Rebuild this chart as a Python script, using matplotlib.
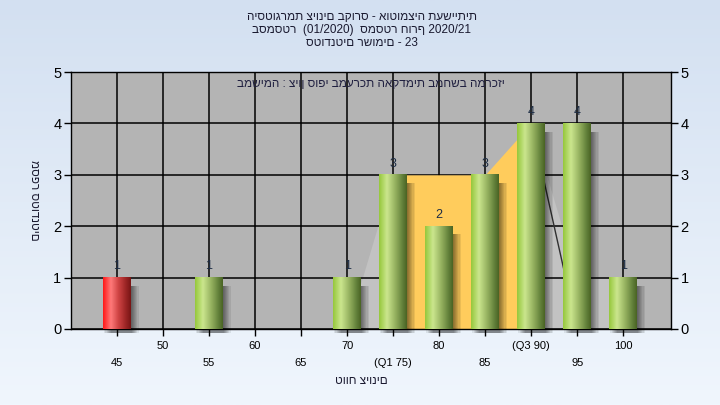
import numpy as np
import matplotlib
matplotlib.use("Agg")
import matplotlib.pyplot as plt
from matplotlib.colors import LinearSegmentedColormap, to_rgb
from matplotlib.patches import Rectangle

plt.rcParams['font.family'] = ['Liberation Sans', 'DejaVu Sans']

# ---------------- data ----------------
grade_bins = [45, 50, 55, 60, 65, 70, 75, 80, 85, 90, 95, 100]
counts = [1, 0, 1, 0, 0, 1, 3, 2, 3, 4, 4, 1]
tick_labels = ['45', '50', '55', '60', '65', '70', '(Q1 75)', '80', '85', '(Q3 90)', '95', '100']
highlight_bin = 45  # red bar

iqr_x = [75, 80, 85, 90]
iqr_y = [3, 3, 3, 4]
low_tail_x = [70, 75]
low_tail_y = [0, 3]
high_tail_x = [90, 95, 100]
high_tail_y = [4, 1, 1]
high_line_x = [90, 95, 100]
high_line_y = [4, 0, 0]

title_lines = ["היסטוגרמת ציונים בקורס - אוטומציה תעשייתית",
               "בסמסטר  (01/2020)  סמסטר חורף 2020/21",
               "סטודנטים רשומים - 23"]
inner_text = "במשימה : ציון סופי במערכת האקדמית במחשב המרכזי"
xlabel = "טווח ציונים"
ylabel = "מספר סטודנטים"

# ---------------- figure ----------------
W, H = 720, 405
fig = plt.figure(figsize=(W / 100, H / 100), dpi=100)

# background gradient
bg = fig.add_axes([0, 0, 1, 1], zorder=-10)
top = np.array(to_rgb('#d3e0f1'))
bot = np.array(to_rgb('#f0f6fd'))
t = np.linspace(0, 1, 200)[:, None, None]
grad = top * (1 - t) + bot * t
bg.imshow(grad, aspect='auto', extent=[0, 1, 0, 1])
bg.set_axis_off()

L, R, T, B = 71, 671, 72, 329
ax = fig.add_axes([L / W, 1 - B / H, (R - L) / W, (B - T) / H])
ax.set_facecolor('#b4b4b4')

# area fills
ax.fill_between(low_tail_x, low_tail_y, 0, color='#c2c2c2', lw=0, zorder=0.3)
ax.fill_between(high_tail_x, high_tail_y, 0, color='#c2c2c2', lw=0, zorder=0.3)
ax.plot(high_line_x, high_line_y, color='#303030', lw=1.0, zorder=0.6)
ax.fill_between(iqr_x, iqr_y, 0, color='#ffcc5c', lw=0, zorder=1)

# grid
ax.set_axisbelow(True)
ax.grid(True, color='black', lw=1.1)

green = LinearSegmentedColormap.from_list('g', [(0, '#96c83c'), (0.28, '#cbe68e'),
                                                 (0.55, '#9cb865'), (0.85, '#62803a'),
                                                 (1, '#4a6424')])
red = LinearSegmentedColormap.from_list('r', [(0, '#ff1818'), (0.28, '#ff7a7a'),
                                               (0.55, '#d04444'), (0.85, '#962222'),
                                               (1, '#781515')])
bw = 3.0
gx = np.linspace(0, 1, 64)[None, :]
for x, v in zip(grade_bins, counts):
    if v <= 0:
        continue
    # soft shadow
    for k in range(7):
        off = 0.12 + 0.12 * k
        ax.add_patch(Rectangle((x - bw / 2 + off, -0.08), bw, v - 0.08,
                               facecolor='black', alpha=0.08, lw=0, zorder=2,
                               clip_on=False))
    cmap = red if x == highlight_bin else green
    ax.imshow(gx, cmap=cmap, aspect='auto', extent=[x - bw / 2, x + bw / 2, 0, v],
              zorder=3, interpolation='bilinear')
    ax.text(x, v + 0.1, str(v), ha='center', va='bottom', fontsize=9,
            color='#1c2c44', zorder=4)

ax.set_xlim(40, 105.2)
ax.set_ylim(0, 5)

ax.set_xticks(grade_bins)
lbls = [('\n' + s) if i % 2 == 0 else s for i, s in enumerate(tick_labels)]
ax.set_xticklabels(lbls, fontsize=8, linespacing=1.9)
ax.set_yticks(range(6))
ax.tick_params(axis='y', labelsize=10.5, length=5, width=1, right=True, labelright=True,
               colors='black', pad=2)
ax.tick_params(axis='x', length=5, width=1, colors='black')
for s in ax.spines.values():
    s.set_color('black')
    s.set_linewidth(1)

ax.text(0.5, 0.955, inner_text, transform=ax.transAxes, ha='center', va='center',
        fontsize=8.5, color='#202040', zorder=5)

for i, line in enumerate(title_lines):
    fig.text(362 / W, 1 - (17 + 13 * i) / H, line, ha='center', va='center',
             fontsize=8.5, color='#1a1a30')

fig.text(361 / W, 1 - 381 / H, xlabel, ha='center', va='center', fontsize=8.5,
         color='#1a1a30')
fig.text(34 / W, 1 - 200 / H, ylabel, ha='center', va='center', fontsize=8.5,
         rotation=270, color='#1a1a30')

fig.savefig('out.png', dpi=100)
